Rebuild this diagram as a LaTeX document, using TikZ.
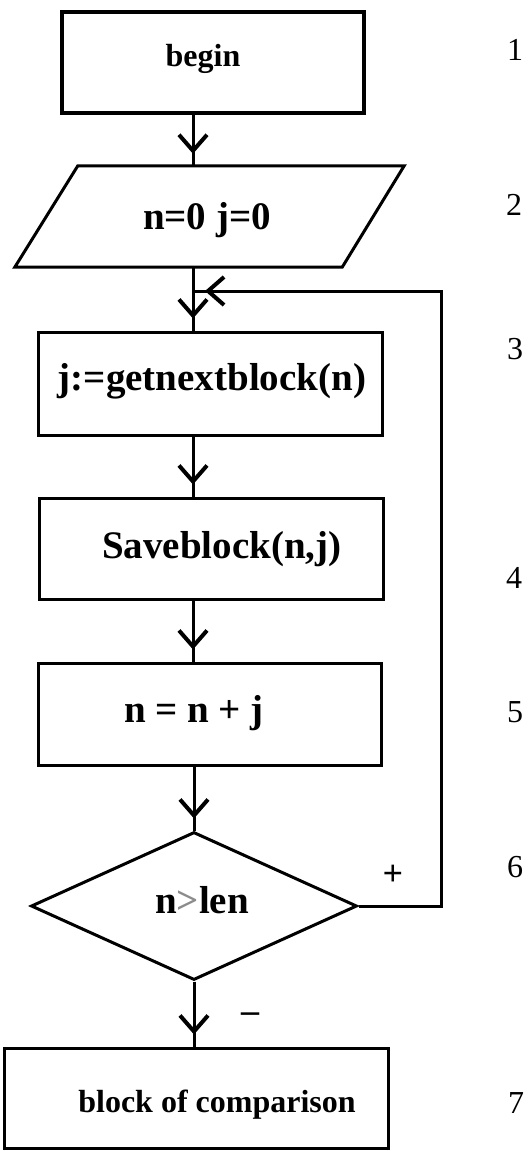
\documentclass[tikz,border=0pt]{standalone}
\usepackage{fontspec}
\setmainfont{Liberation Serif}
\usetikzlibrary{arrows.meta,shapes.geometric}
\begin{document}
\begin{tikzpicture}[x=1pt,y=-1pt,
  blk/.style={draw, line width=3pt, rectangle, inner sep=0pt, minimum width=#1},
  blk/.default=300pt,
  txt/.style={font=\bfseries\fontsize{39}{40}\selectfont, inner sep=0pt},
  smalltxt/.style={font=\bfseries\fontsize{32}{34}\selectfont, inner sep=0pt},
  num/.style={font=\fontsize{32}{34}\selectfont, inner sep=0pt},
  signtxt/.style={font=\bfseries\fontsize{36}{38}\selectfont, inner sep=0pt},
  flow/.style={line width=3pt,
    postaction={draw, -{Straight Barb[length=16pt,width=28pt,line width=4pt]}, shorten >=12pt}}]
\useasboundingbox (0,0) rectangle (528,1151);

% axis of the flow lines
\coordinate (spine) at (193,0);

% blocks
\node[blk=302pt, minimum height=101pt, line width=4.5pt] (b1) at (213,62.5) {};
\node[inner sep=0pt, minimum width=389pt, minimum height=101pt] (p2) at (209.5,216.5) {};
\draw[line width=3pt, line join=miter]
  (p2.south west) -- ([xshift=63pt]p2.north west) -- (p2.north east)
  -- ([xshift=-62pt]p2.south east) -- cycle;
\node[blk=344pt, minimum height=103pt] (b3) at (210,383.5) {};
\node[blk=344pt, minimum height=101pt] (b4) at (211,548.5) {};
\node[blk=343pt, minimum height=102pt] (b5) at (209.5,714) {};
\node[draw, diamond, line width=3pt, inner sep=0pt,
      minimum width=326pt, minimum height=148pt] (d6) at (194,906) {};
\node[blk=384pt, minimum height=100pt] (b7) at (196,1098) {};

% block texts
\node[smalltxt] (t1) at (203,58.5) {begin};
\node[txt] (t2) at (207,220.5) {n=0 j=0};
\node[txt] (t3) at (212,381) {j:=getnextblock(n)};
\node[txt] (t4) at (222,549) {Saveblock(n,j)};
\node[txt] (t5) at (194,713) {n = n + j};
\node[txt] (t6) at (202,900) {n{\color{black!45}>}len};
\node[smalltxt] (t7) at (217,1104.5) {block of comparison};

% step numbers
\node[num] (n1) at (515,50) {1};
\node[num] (n2) at (514,205) {2};
\node[num] (n3) at (515,349) {3};
\node[num] (n4) at (514,578) {4};
\node[num] (n5) at (515,712) {5};
\node[num] (n6) at (515,867) {6};
\node[num] (n7) at (516,1103) {7};

% branch marks
\node[signtxt] (plus) at (393,875) {+};
\node[signtxt] (minus) at (250,1018) {–};

% connectors
\coordinate (loopc) at (441,291);
\draw[flow] (b1.south -| spine) -- (p2.north -| spine);
\draw[flow] (p2.south -| spine) -- (b3.north -| spine);
\draw[flow] (b3.south -| spine) -- (b4.north -| spine);
\draw[flow] (b4.south -| spine) -- (b5.north -| spine);
\draw[flow] (b5.south -| d6.north) -- (d6.north);
\draw[flow] (d6.south) -- (b7.north -| d6.south);
\draw[flow] (d6.east) -| (loopc) -- (loopc -| spine);
\end{tikzpicture}
\end{document}
